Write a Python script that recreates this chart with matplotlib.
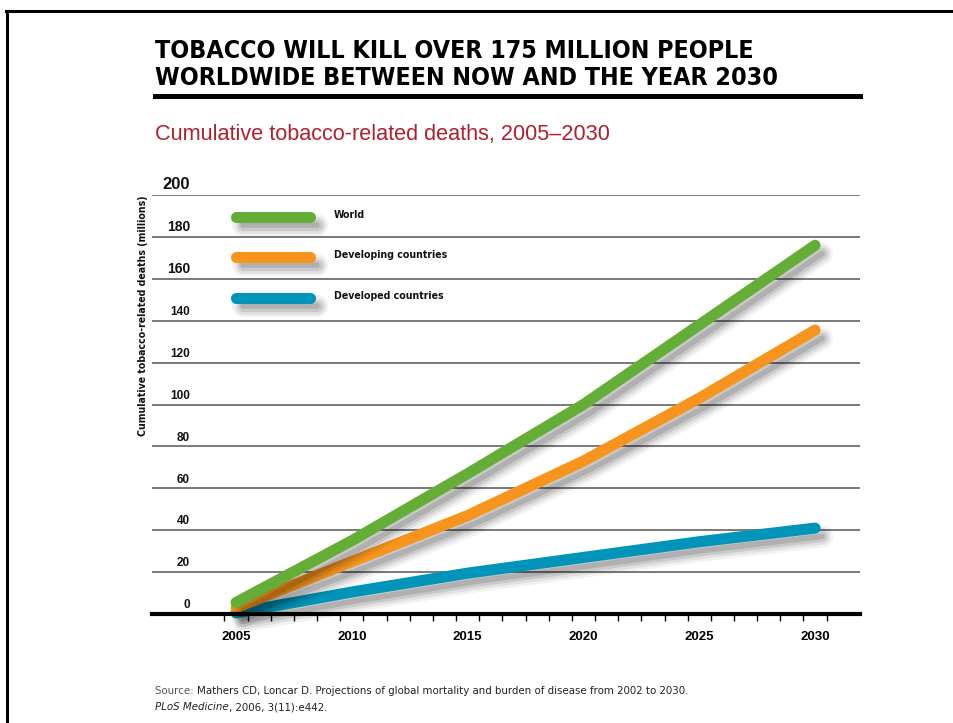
import matplotlib
matplotlib.use("Agg")
import matplotlib.pyplot as plt
import matplotlib.patheffects as pe
import matplotlib.transforms as mtransforms
from matplotlib import font_manager
from matplotlib.lines import Line2D

# values (millions, cumulative)
years = [2005, 2010, 2015, 2020, 2025, 2030]
world = [5.5, 35, 67, 100, 138, 176]
developing = [3, 25, 47, 73, 103, 135.5]
developed = [0.5, 10.5, 19.5, 27, 34.5, 41]

series_names = ["World", "Developing countries", "Developed countries"]
series_colors = ["#64ae37", "#f7941d", "#0094b9"]

y_ticks = [0, 20, 40, 60, 80, 100, 120, 140, 160, 180, 200]
y_tick_sizes = [8.5, 8.5, 8.5, 8.5, 8.5, 8.5, 8.5, 8.5, 10, 10, 12]
x_ticks = [2005, 2010, 2015, 2020, 2025, 2030]

title_lines = ["TOBACCO WILL KILL OVER 175 MILLION PEOPLE",
               "WORLDWIDE BETWEEN NOW AND THE YEAR 2030"]
subtitle = "Cumulative tobacco-related deaths, 2005\u20132030"
ylabel = "Cumulative tobacco-related deaths (millions)"
source_lead = "Source: "
source_text = "Mathers CD, Loncar D. Projections of global mortality and burden of disease from 2002 to 2030."
journal = "PLoS Medicine"
journal_rest = ", 2006, 3(11):e442."

# pick a narrow font if one is installed
fonts = font_manager.fontManager.ttflist
names = {f.name for f in fonts}
if "Liberation Sans Narrow" in names:
    NARROW = dict(family=["Liberation Sans Narrow", "DejaVu Sans"])
elif any(f.name == "DejaVu Sans" and "condensed" in str(f.stretch) for f in fonts):
    NARROW = dict(family=["DejaVu Sans"], fontstretch="condensed")
else:
    NARROW = dict(family=["Roboto", "DejaVu Sans"])
SANS = dict(family=["Liberation Sans", "DejaVu Sans"])

W, H = 954, 723
fig = plt.figure(figsize=(W / 100, H / 100), dpi=100)

def fx(px):
    return px / W

def fy(py):
    return 1 - py / H

def fit(t, target, vertical=False):
    # scale font so the text spans target pixels
    r = fig.canvas.get_renderer()
    bb = t.get_window_extent(r)
    size = bb.height if vertical else bb.width
    t.set_fontsize(t.get_fontsize() * target / size)

# plot area: x 152..860 px, y 195..614 px
ax = fig.add_axes([fx(152), fy(614), fx(860) - fx(152), fy(195) - fy(614)])
ax.set_xlim(2001.37, 2031.94)
ax.set_ylim(0, 200)
for s in ax.spines.values():
    s.set_visible(False)

for v in y_ticks[1:]:
    ax.axhline(v, color="#555555", lw=1.1, zorder=1)
ax.axhline(0, color="black", lw=3, zorder=6, clip_on=False)

LW = 8
def shadow_fx():
    return [pe.SimpleLineShadow(offset=(5, -6), shadow_color="black", alpha=0.05, linewidth=LW + 8),
            pe.SimpleLineShadow(offset=(5, -6), shadow_color="black", alpha=0.07, linewidth=LW + 4),
            pe.SimpleLineShadow(offset=(5, -6), shadow_color="black", alpha=0.10, linewidth=LW),
            pe.SimpleLineShadow(offset=(5, -6), shadow_color="black", alpha=0.12, linewidth=LW - 4),
            pe.Normal()]

for vals, col, z in [(developed, series_colors[2], 3), (developing, series_colors[1], 4), (world, series_colors[0], 5)]:
    ax.plot(years, vals, color=col, lw=LW, solid_capstyle="round",
            solid_joinstyle="round", zorder=z, clip_on=False, path_effects=shadow_fx())

# legend drawn by hand inside the axes
leg_y = [0.9475, 0.852, 0.754]
leg_texts = []
for name, col, yy in zip(series_names, series_colors, leg_y):
    ax.plot([0.1186, 0.2232], [yy, yy], transform=ax.transAxes, color=col, lw=LW,
            solid_capstyle="round", zorder=5, path_effects=shadow_fx())
    leg_texts.append(ax.text(0.257, yy + 0.004, name, transform=ax.transAxes, **NARROW,
                             fontweight="bold", fontsize=9, va="center", ha="left", color="#111111"))

# y tick labels sit above each gridline
ax.set_yticks([])
trans = mtransforms.blended_transform_factory(ax.transAxes, ax.transData)
for v, fs in zip(y_ticks, y_tick_sizes):
    ax.annotate(str(v), xy=((190 - 152) / (860 - 152), v), xycoords=trans,
                xytext=(0, 2), textcoords="offset points", ha="right", va="bottom",
                **SANS, fontweight="bold", fontsize=fs, color="#111111")

# x axis: labels at years, ticks between years
ax.set_xticks(x_ticks)
ax.set_xticklabels([str(x) for x in x_ticks], **SANS, fontweight="bold", fontsize=9.5)
ax.tick_params(axis="x", which="major", length=0, pad=12)
ax.set_xticks([y - 0.5 for y in range(2005, 2032)], minor=True)
ax.tick_params(axis="x", which="minor", length=5, width=1, direction="out", color="black")

yl = fig.text(fx(143), fy(316), ylabel, rotation=90, ha="center", va="center",
              **NARROW, fontweight="bold", fontsize=8.5, color="#111111")

# titles
tt1 = fig.text(fx(155), fy(58), title_lines[0], **NARROW, fontweight="bold",
               fontsize=20, va="baseline", ha="left", color="black")
tt2 = fig.text(fx(155), fy(85), title_lines[1], **NARROW, fontweight="bold",
               fontsize=20, va="baseline", ha="left", color="black")
fig.add_artist(Line2D([fx(155), fx(860)], [fy(95.5), fy(95.5)], color="black", lw=3.6))
st = fig.text(fx(155), fy(140), subtitle, **SANS, fontsize=15, va="baseline",
              ha="left", color="#b01f2e")

# outer frame (top and left edges)
fig.add_artist(Line2D([fx(6), 1], [fy(11), fy(11)], color="black", lw=2.2))
fig.add_artist(Line2D([fx(7), fx(7)], [fy(11), 0], color="black", lw=2.2))

# source note
s1 = fig.text(fx(155), fy(694), source_lead, **NARROW, fontsize=9,
              va="baseline", ha="left", color="#555555")
s2 = fig.text(fx(200), fy(694), source_text, **NARROW, fontsize=9,
              va="baseline", ha="left", color="#222222")
j1 = fig.text(fx(155), fy(710), journal, **NARROW, fontsize=9,
              style="italic", va="baseline", ha="left", color="#222222")
j2 = fig.text(fx(230), fy(710), journal_rest, **NARROW, fontsize=9,
              va="baseline", ha="left", color="#222222")

fig.canvas.draw()
fit(tt1, 600)
tt2.set_fontsize(tt1.get_fontsize())
fit(st, 455)
fit(leg_texts[1], 114)
for t in leg_texts:
    t.set_fontsize(leg_texts[1].get_fontsize())
fit(yl, 242, vertical=True)
fit(s2, 493)
for t in (s1, j1, j2):
    t.set_fontsize(s2.get_fontsize())

# chain the source pieces one after another
r = fig.canvas.get_renderer()
s2.set_x(s1.get_window_extent(r).x1 / W)
j2.set_x(j1.get_window_extent(r).x1 / W)

fig.savefig("out.png", dpi=100)
